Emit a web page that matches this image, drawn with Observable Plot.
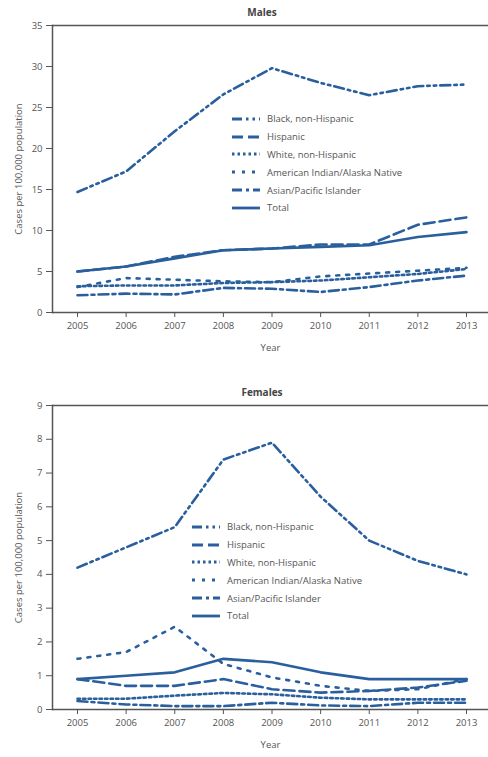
<!DOCTYPE html>
<html><head><meta charset="utf-8">
<script src="https://cdn.jsdelivr.net/npm/d3@7"></script>
<script src="https://cdn.jsdelivr.net/npm/@observablehq/plot@0.6"></script>
<style>
body{margin:0;background:#fff;font-family:"Open Sans",sans-serif;}
#wrap{position:relative;width:488px;height:757px;overflow:hidden;}
.title{position:absolute;left:0;width:488px;padding-left:36px;box-sizing:border-box;text-align:center;font-weight:bold;font-size:10px;color:#444;line-height:14px;}
.chart{position:absolute;left:0;}
.legend{position:absolute;font-size:9.5px;color:#555;}
.legend .row{display:flex;align-items:center;height:17.8px;white-space:nowrap;}
.legend svg{margin-right:6px;}
</style></head><body><div id="wrap"></div><script>
const years = [2005, 2006, 2007, 2008, 2009, 2010, 2011, 2012, 2013];
const groups = ["Black, non-Hispanic", "Hispanic", "White, non-Hispanic", "American Indian/Alaska Native", "Asian/Pacific Islander", "Total"];
const dashes = ["10,4,2.5,4,2.5,4", "11,5", "2.5,3", "3,7", "10,4,3,4", "none"];

// Males, cases per 100,000
const maleBlack    = [14.7, 17.2, 22.1, 26.6, 29.8, 28.0, 26.5, 27.6, 27.8];
const maleHispanic = [5.0, 5.6, 6.8, 7.6, 7.8, 8.3, 8.3, 10.7, 11.6];
const maleWhite    = [3.2, 3.3, 3.3, 3.6, 3.7, 3.9, 4.3, 4.7, 5.3];
const maleAIAN     = [3.1, 4.2, 4.0, 3.8, 3.7, 4.4, 4.75, 5.1, 5.45];
const maleAsian    = [2.1, 2.3, 2.2, 3.0, 2.9, 2.5, 3.1, 3.9, 4.5];
const maleTotal    = [5.0, 5.6, 6.6, 7.6, 7.8, 8.0, 8.2, 9.2, 9.8];

// Females, cases per 100,000
const femaleBlack    = [4.2, 4.8, 5.4, 7.4, 7.9, 6.3, 5.0, 4.4, 4.0];
const femaleHispanic = [0.9, 0.7, 0.7, 0.9, 0.6, 0.5, 0.55, 0.65, 0.85];
const femaleWhite    = [0.32, 0.32, 0.41, 0.49, 0.45, 0.35, 0.3, 0.3, 0.3];
const femaleAIAN     = [1.5, 1.7, 2.45, 1.35, 0.95, 0.7, 0.55, 0.6, 0.9];
const femaleAsian    = [0.25, 0.15, 0.1, 0.1, 0.2, 0.12, 0.1, 0.2, 0.2];
const femaleTotal    = [0.9, 1.0, 1.1, 1.5, 1.4, 1.1, 0.9, 0.9, 0.9];

const maleTicks = [0, 5, 10, 15, 20, 25, 30, 35];
const femaleTicks = [0, 1, 2, 3, 4, 5, 6, 7, 8, 9];

const color = "#2a5f9e";
const ink = "#555";
const wrap = document.getElementById("wrap");

function build(series, yMax, yTicks, plotHeight) {
  const marks = [
    Plot.ruleY([0], {stroke: ink, strokeWidth: 1.5}),
    Plot.ruleY([yMax], {stroke: ink, strokeWidth: 1.5}),
    Plot.frame({anchor: "left", stroke: ink, strokeWidth: 1.5}),
    Plot.axisY({ticks: yTicks, tickSize: 6, tickPadding: 4, label: "Cases per 100,000 population", labelArrow: "none", labelAnchor: "center", labelOffset: 37, fill: ink, stroke: ink, fontSize: "9.5px"}),
    Plot.axisX({ticks: years, tickSize: 5, tickPadding: 5, tickFormat: d3.format("d"), label: "Year", labelArrow: "none", labelAnchor: "center", labelOffset: 38, fill: ink, stroke: ink})
  ];
  groups.forEach((g, i) => {
    const data = years.map((y, j) => ({year: y, value: series[i][j]}));
    marks.push(Plot.line(data, {x: "year", y: "value", stroke: color, strokeWidth: 2.6, strokeDasharray: dashes[i] === "none" ? null : dashes[i], curve: "linear"}));
  });
  return Plot.plot({
    width: 488,
    height: plotHeight + 5 + 45,
    marginTop: 5,
    marginBottom: 45,
    marginLeft: 52,
    marginRight: 0,
    x: {domain: [2005, 2013], insetLeft: 25, insetRight: 22},
    y: {domain: [0, yMax]},
    style: {fontSize: "9.5px", fontFamily: "Open Sans, sans-serif", color: ink, background: "white"},
    marks
  });
}

function legend(top, left) {
  const div = document.createElement("div");
  div.className = "legend";
  div.style.top = top + "px";
  div.style.left = left + "px";
  groups.forEach((g, i) => {
    const row = document.createElement("div");
    row.className = "row";
    const s = d3.create("svg").attr("width", 30).attr("height", 6);
    s.append("line").attr("x1", 1).attr("x2", 29).attr("y1", 3).attr("y2", 3)
      .attr("stroke", color).attr("stroke-width", 2.8)
      .attr("stroke-dasharray", dashes[i] === "none" ? null : dashes[i]);
    row.appendChild(s.node());
    const t = document.createElement("span");
    t.textContent = g;
    row.appendChild(t);
    div.appendChild(row);
  });
  wrap.appendChild(div);
}

function title(text, top) {
  const d = document.createElement("div");
  d.className = "title";
  d.style.top = top + "px";
  d.textContent = text;
  wrap.appendChild(d);
}

title("Males", 5);
const m = build([maleBlack, maleHispanic, maleWhite, maleAIAN, maleAsian, maleTotal], 35, maleTicks, 287);
m.classList.add("chart"); m.style.top = "20px";
wrap.appendChild(m);
legend(110, 231);

title("Females", 385);
const f = build([femaleBlack, femaleHispanic, femaleWhite, femaleAIAN, femaleAsian, femaleTotal], 9, femaleTicks, 304);
f.classList.add("chart"); f.style.top = "400px";
wrap.appendChild(f);
legend(518, 191);
</script></body></html>
